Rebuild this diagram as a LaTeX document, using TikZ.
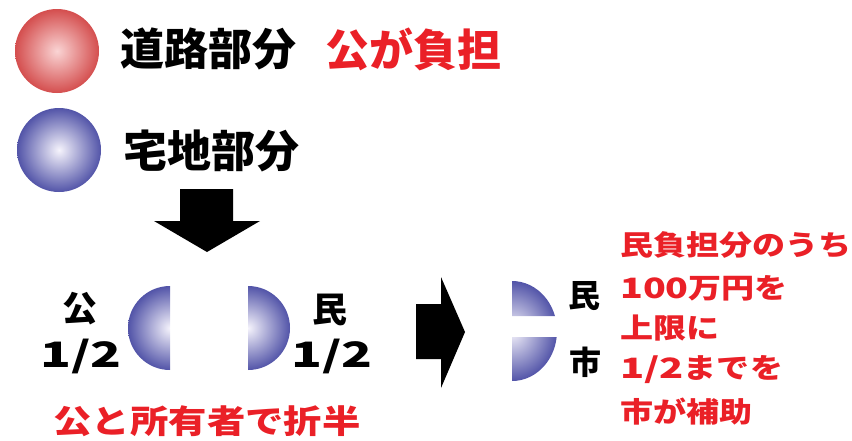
\documentclass[tikz,border=0pt]{standalone}
\usepackage{fontspec}
\newfontfamily\jp{Noto Sans CJK JP}
\usetikzlibrary{positioning}
\definecolor{redtxt}{RGB}{234,32,39}
\definecolor{redball}{RGB}{212,78,78}
\definecolor{redhi}{RGB}{250,212,212}
\definecolor{blueball}{RGB}{82,84,168}
\definecolor{bluehi}{RGB}{246,244,252}
\newcommand\widen[2][1.18]{\scalebox{#1}[1]{#2}}

\tikzset{
  big/.style={font=\jp\bfseries\fontsize{44}{44}\selectfont, inner sep=0pt},
  mid/.style={font=\jp\bfseries\fontsize{35}{35}\selectfont, inner sep=0pt},
  note/.style={font=\jp\bfseries\fontsize{28}{28}\selectfont, text=redtxt, inner sep=0pt, anchor=west},
  redsph/.style={shading=radial, inner color=redhi, outer color=redball},
  bluesph/.style={shading=radial, inner color=bluehi, outer color=blueball}
}

\begin{document}
\begin{tikzpicture}[x=1pt, y=-1pt]
  \useasboundingbox (0,0) rectangle (852,440);

  % legend
  \shade[redsph] (57,51) circle (42);
  \shade[bluesph] (59,150) circle (42);
  \node[big] (road) at (208,49) {道路部分};
  \node[big, text=redtxt] (pub) at (413,49) {公が負担};
  \node[big] (lot) at (211,151) {宅地部分};

  % down arrow
  \fill (180,189) -- (233,189) -- (233,221) -- (260,221) -- (207,252) -- (154,221) -- (180,221) -- cycle;

  % halves
  \begin{scope}
    \clip (126,284) rectangle (170,372);
    \shade[bluesph] (170,328) circle (42);
  \end{scope}
  \begin{scope}
    \clip (248,284) rectangle (292,372);
    \shade[bluesph] (248,328) circle (42);
  \end{scope}
  \node[mid] (ko) at (80,309) {公};
  \node[mid] (kofr) at (81,356) {\widen[1.45]{1/2}};
  \node[mid] (min) at (330,310) {民};
  \node[mid] (minfr) at (332,356) {\widen[1.45]{1/2}};
  \node[mid, font=\jp\bfseries\fontsize{32.5}{32.5}\selectfont, text=redtxt] (half) at (207,421) {\widen{公と所有者で折半}};

  % right arrow
  \fill (416,304) -- (441,304) -- (441,277) -- (465,332) -- (441,388) -- (441,359) -- (416,359) -- cycle;

  % quarters
  \begin{scope}
    \clip (512,281) rectangle (562,316) (512,337) rectangle (562,381);
    \shade[bluesph] (512,331) ellipse [x radius=45, y radius=50];
  \end{scope}
  \node[mid, font=\jp\bfseries\fontsize{32}{32}\selectfont] (min2) at (584,296) {民};
  \node[mid, font=\jp\bfseries\fontsize{32}{32}\selectfont] (shi) at (585,362) {市};

  % note
  \node[note] (n1) at (620,245) {\widen{民負担分のうち}};
  \node[note] (n2) at (620,288) {\widen[1.34]{100}\widen{万円を}};
  \node[note] (n3) at (620,328) {\widen{上限に}};
  \node[note] (n4) at (620,370) {\widen[1.42]{1/2}\widen{までを}};
  \node[note] (n5) at (620,412) {\widen{市が補助}};
\end{tikzpicture}
\end{document}
